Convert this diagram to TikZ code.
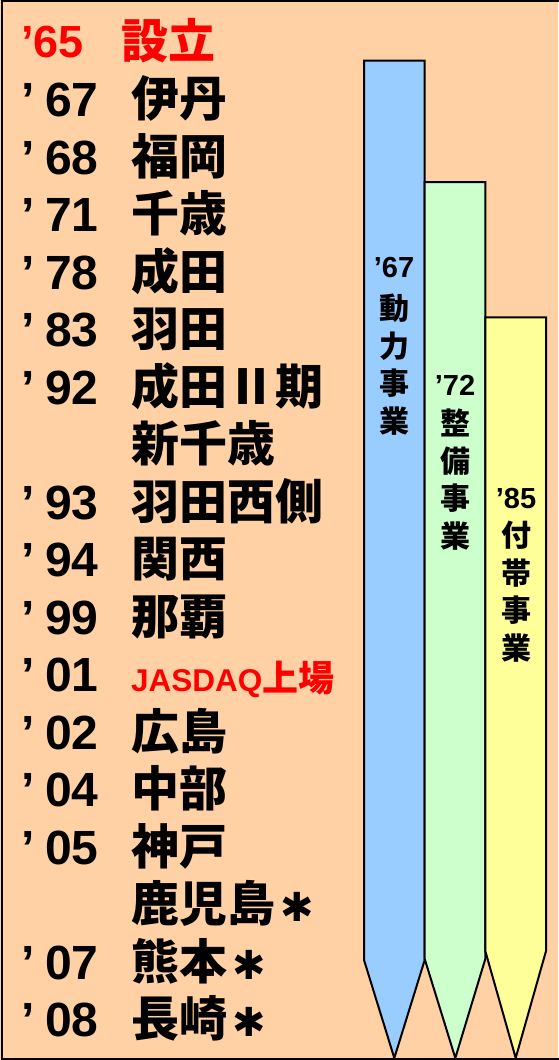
\documentclass[tikz,border=0pt]{standalone}
\usepackage{fontspec}
\setmainfont{Liberation Sans}
\newfontfamily\jp{Noto Sans CJK JP}
\newfontfamily\symf{DejaVu Sans}
\definecolor{peach}{HTML}{FFD1A4}
\definecolor{ablue}{HTML}{99CCFF}
\definecolor{agreen}{HTML}{CCFFCC}
\definecolor{ayellow}{HTML}{FFFF99}
\definecolor{jred}{HTML}{FF0000}
\newcommand{\hast}{\hspace{5pt}{\symf\bfseries\fontsize{40}{40}\selectfont ✱}}
\begin{document}
\begin{tikzpicture}[x=1pt,y=-1pt,
  yr/.style={anchor=base west, inner sep=0pt, font=\bfseries\fontsize{48}{48}\selectfont},
  nm/.style={anchor=base west, inner sep=0pt, font=\jp\bfseries\fontsize{48}{48}\selectfont},
  lbl/.style={anchor=base, inner sep=0pt, font=\bfseries\fontsize{29}{29}\selectfont},
  lch/.style={anchor=base, inner sep=0pt, font=\jp\bfseries\fontsize{30}{30}\selectfont},
  bar/.style={draw=black, line width=2pt, line join=miter}]
\useasboundingbox (0,0) rectangle (558,1060);
\fill[peach] (0,0) rectangle (558,1060);
\draw[line width=2pt] (1.5,1) rectangle (562,1058.5);
% bars
\draw[bar, fill=ablue] (364,60.7) -- (424.7,60.7) -- (424.7,960) -- (394.3,1058) -- (364,960) -- cycle;
\draw[bar, fill=agreen] (424.7,182) -- (485.3,182) -- (485.3,959) -- (455.3,1058) -- (424.7,959) -- cycle;
\draw[bar, fill=ayellow] (485.3,317.3) -- (546,317.3) -- (546,951) -- (515.7,1058) -- (485.3,951) -- cycle;
% bar labels
\node[lbl] (b1y) at (394,277) {’67};
\node[lch] (b1a) at (394,319.5) {動};
\node[lch] (b1b) at (394,357.2) {力};
\node[lch] (b1c) at (394,394.9) {事};
\node[lch] (b1d) at (394,432.6) {業};
\node[lbl] (b2y) at (455,395) {’72};
\node[lch] (b2a) at (455,434.5) {整};
\node[lch] (b2b) at (455,472.2) {備};
\node[lch] (b2c) at (455,509.9) {事};
\node[lch] (b2d) at (455,547.6) {業};
\node[lbl] (b3y) at (516,508) {’85};
\node[lch] (b3a) at (516,546.5) {付};
\node[lch] (b3b) at (516,584.2) {帯};
\node[lch] (b3c) at (516,621.9) {事};
\node[lch] (b3d) at (516,659.6) {業};
% founding row
\node[yr, text=jred, font=\bfseries\fontsize{45}{45}\selectfont] (y65) at (21,57.5) {’65};
\node[nm, text=jred, font=\jp\bfseries\fontsize{47}{47}\selectfont] (n65) at (121.5,58.5) {設立};
% rows
\foreach \i/\yy/\nn in {0/67/伊丹, 1/68/福岡, 2/71/千歳, 3/78/成田, 4/83/羽田,
  5/92/成田Ⅱ期, 7/93/羽田西側, 8/94/関西, 9/99/那覇,
  11/02/広島, 12/04/中部, 13/05/神戸}{
  \node[yr] (y\i) at (21.5,{116.7+57.5*\i}) {’\hspace{10pt}\yy};
  \node[nm] (n\i) at (131,{116.7+57.5*\i}) {\nn};
}
\node[yr] (y15) at (21.5,{116.7+57.5*15}) {’\hspace{10pt}07};
\node[nm] (n15) at (131,{116.7+57.5*15}) {熊本\hast};
\node[yr] (y16) at (21.5,{116.7+57.5*16}) {’\hspace{10pt}08};
\node[nm] (n16) at (131,{116.7+57.5*16}) {長崎\hast};
\node[nm] (n6) at (131,{116.7+57.5*6}) {新千歳};
\node[nm] (n14) at (131,{116.7+57.5*14}) {鹿児島\hast};
\node[yr] (y10) at (21.5,{116.7+57.5*10}) {’\hspace{10pt}01};
\node[anchor=base west, inner sep=0pt, text=jred] (n10) at (131,{116.7+57.5*10})
  {\bfseries\fontsize{31.5}{31.5}\selectfont JASDAQ\jp\fontsize{36}{36}\selectfont 上場};
\end{tikzpicture}
\end{document}
